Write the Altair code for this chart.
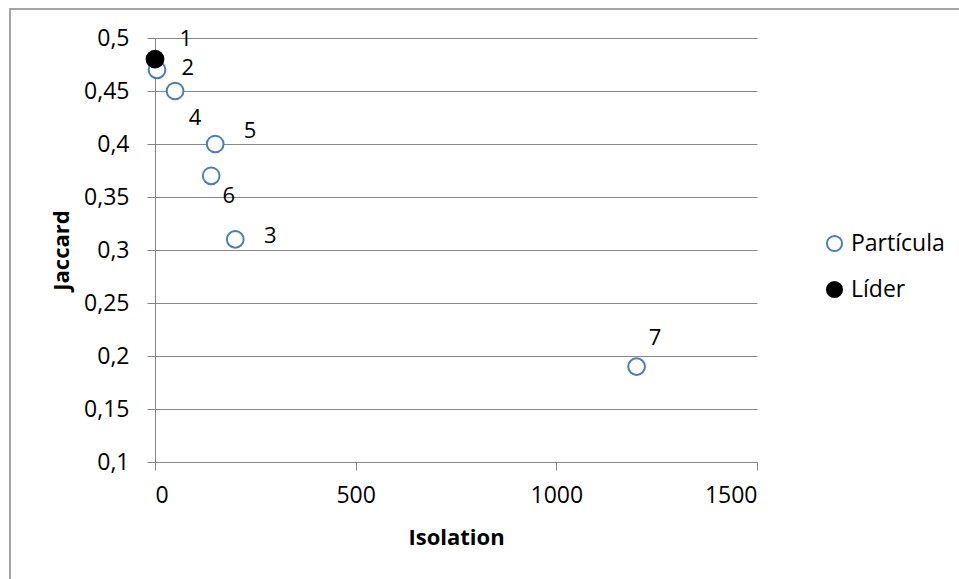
import altair as alt
import pandas as pd

# Data points
ids = ["1", "2", "4", "5", "6", "3", "7"]
isolation = [0, 5, 50, 150, 140, 200, 1200]
jaccard = [0.48, 0.47, 0.45, 0.40, 0.37, 0.31, 0.19]
series = ["Líder", "Partícula", "Partícula", "Partícula", "Partícula", "Partícula", "Partícula"]

# Data label anchor positions (data units)
label_text = ["1", "2", "4", "5", "6", "3", "7"]
label_x = [77, 82, 100, 237, 184, 287, 1246]
label_y = [0.499, 0.472, 0.425, 0.412, 0.351, 0.313, 0.217]

y_ticks = [0.1, 0.15, 0.2, 0.25, 0.3, 0.35, 0.4, 0.45, 0.5]
x_ticks = [0, 500, 1000, 1500]

FONT = "Open Sans"
FS = 23

pts = pd.DataFrame({"id": ids, "Isolation": isolation, "Jaccard": jaccard, "series": series})
# draw particles first, leader on top
pts = pd.concat([pts[pts.series == "Partícula"], pts[pts.series == "Líder"]])
labels = pd.DataFrame({"t": label_text, "x": label_x, "y": label_y})

xscale = alt.Scale(domain=[0, 1500], nice=False, zero=False)
yscale = alt.Scale(domain=[0.1, 0.5], nice=False, zero=False)

xaxis = alt.Axis(values=x_ticks, grid=False, title="Isolation", format="d", labelFont=FONT, labelFontSize=FS,
                 labelColor="black", domainColor="#868686", tickColor="#868686", tickSize=8,
                 labelPadding=14, titleFont=FONT, titleFontSize=FS - 1, titleFontWeight="bold",
                 titleColor="black", titleX=301, titleY=75, titleBaseline="middle", titleAlign="center")
yaxis = alt.Axis(values=y_ticks, grid=True, gridColor="#868686", title="Jaccard",
                 labelExpr="replace(format(datum.value, '~g'), '.', ',')",
                 labelFont=FONT, labelFontSize=FS, labelColor="black", domainColor="#868686",
                 tickColor="#868686", tickSize=8, labelPadding=18, titleFont=FONT, titleFontSize=FS - 1,
                 titleFontWeight="bold", titleColor="black", titleX=-94, titleY=212,
                 titleBaseline="middle", titleAlign="center", titleAngle=-90)

legend = alt.Legend(title=None, orient="none", legendX=668, legendY=194,
                    labelFont=FONT, labelFontSize=FS, labelColor="black",
                    symbolSize=230, symbolStrokeWidth=2, rowPadding=21, labelOffset=5,
                    symbolType="circle")

frame = alt.Chart(pd.DataFrame({"a": [0]})).mark_rect(fill=None, stroke="#868686", strokeWidth=1.5).encode(
    x=alt.value(-145), x2=alt.value(1000), y=alt.value(-29), y2=alt.value(800)
)

cat = ["Partícula", "Líder"]
points = alt.Chart(pts).mark_point(shape="circle", size=280, strokeWidth=2, opacity=1).encode(
    x=alt.X("Isolation:Q", scale=xscale, axis=xaxis),
    y=alt.Y("Jaccard:Q", scale=yscale, axis=yaxis),
    stroke=alt.Stroke("series:N", scale=alt.Scale(domain=cat, range=["#4A7EBB", "black"]), legend=legend),
    fill=alt.Fill("series:N", scale=alt.Scale(domain=cat, range=["white", "black"]), legend=legend),
)

text = alt.Chart(labels).mark_text(font=FONT, fontSize=FS - 1, color="black", align="center", baseline="middle").encode(
    x=alt.X("x:Q", scale=xscale),
    y=alt.Y("y:Q", scale=yscale),
    text="t:N",
)

chart = alt.layer(frame, points, text).properties(
    width=602, height=424,
    autosize=alt.AutoSizeParams(type="none"),
    padding={"left": 155, "top": 38, "right": 202, "bottom": 117},
    background="white",
).configure_view(stroke=None)

chart.save("out.html", embed_options={"renderer": "svg", "actions": False})
